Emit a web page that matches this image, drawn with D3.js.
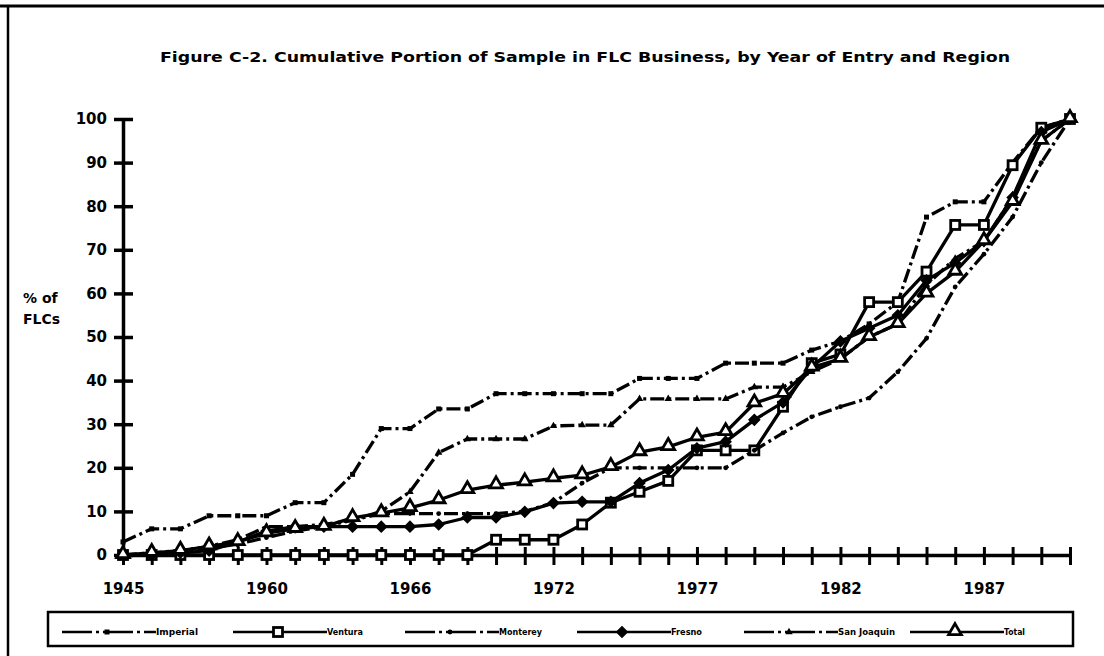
<!DOCTYPE html>
<head>
  <meta charset="utf-8" />
  <script src="https://d3js.org/d3.v7.min.js"></script>
  <style>
    body { margin: 0; background: #fff; }
    text { font-family: "DejaVu Sans", "Liberation Sans", Arial, sans-serif; font-weight: bold; fill: #000; }
  </style>
</head>
<body>
<script>
// x categories (only every 5th one carries a label)
var xLabels = ["1945","","","","","1960","","","","","1966","","","","","1972","","","","",
               "1977","","","","","1982","","","","","1987","","",""];
var yTicks = [0, 10, 20, 30, 40, 50, 60, 70, 80, 90, 100];

// cumulative % of FLCs, one value per category
var imperial   = [3, 6, 6, 9, 9, 9, 12, 12, 18.5, 29, 29, 33.5, 33.5, 37, 37, 37, 37, 37, 40.5, 40.5,
                  40.5, 44, 44, 44, 47, 49, 53, 58, 77.5, 81, 81, 90, 98, 100];
var ventura    = [0, 0, 0, 0, 0, 0, 0, 0, 0, 0, 0, 0, 0, 3.5, 3.5, 3.5, 7, 12, 14.5, 17,
                  24, 24, 24, 34, 44, 46, 58, 58, 65, 75.7, 75.7, 89.4, 98, 100];
var monterey   = [0, 0, 0.5, 1.5, 2.5, 4, 5.5, 6.5, 8, 9.5, 9.5, 9.5, 9.5, 9.5, 10, 12, 16.5, 20, 20, 20,
                  20, 20, 24, 28, 31.7, 34, 36, 42, 49.7, 61.5, 69, 77.5, 90, 100];
var fresno     = [0, 0, 0.5, 1, 3, 5.5, 6.5, 6.5, 6.5, 6.5, 6.5, 7, 8.6, 8.6, 9.9, 11.9, 12.2, 12.2, 16.5, 19.5,
                  24.5, 26, 31, 35, 43, 49, 52, 55, 63, 67, 72, 82, 97, 100];
var sanJoaquin = [0, 0.5, 1, 2, 3.5, 6.5, 6.5, 7, 8, 10, 14.5, 23.5, 26.6, 26.6, 26.6, 29.6, 29.8, 29.8, 35.8, 35.8,
                  35.8, 35.8, 38.5, 38.5, 42, 45, 50, 53, 62, 68, 72, 82, 95, 100];
var total      = [0, 0.5, 1, 2, 3, 5, 6, 6.5, 8.5, 9.6, 10.8, 12.6, 14.9, 16, 16.7, 17.6, 18.3, 20.2, 23.6, 24.8,
                  27, 28.2, 34.8, 37, 43, 45, 50, 53, 60, 65, 72, 81, 95, 100];

var seriesNames = ["Imperial", "Ventura", "Monterey", "Fresno", "San Joaquin", "Total"];
var seriesData = [imperial, ventura, monterey, fresno, sanJoaquin, total];

var width = 1104, height = 656;
var svg = d3.select("body").append("svg").attr("width", width).attr("height", height);

var x = d3.scaleLinear().domain([0, xLabels.length - 1]).range([123, 1070]);
var y = d3.scaleLinear().domain([0, 100]).range([555, 119]);

// frame
svg.append("line").attr("x1", 0).attr("x2", width).attr("y1", 6).attr("y2", 6)
  .attr("stroke", "#000").attr("stroke-width", 3);
svg.append("line").attr("x1", 8).attr("x2", 8).attr("y1", 5).attr("y2", height)
  .attr("stroke", "#000").attr("stroke-width", 2.5);

// title
svg.append("text").attr("x", 160).attr("y", 62)
  .attr("textLength", 850).attr("lengthAdjust", "spacingAndGlyphs")
  .style("font-size", "14px")
  .text("Figure C-2. Cumulative Portion of Sample in FLC Business, by Year of Entry and Region");

// y label
svg.append("text").attr("x", 23).attr("y", 303).style("font-size", "14px").text("% of");
svg.append("text").attr("x", 23).attr("y", 324).style("font-size", "14px").text("FLCs");

// axes
var yAxis = svg.append("g").attr("transform", "translate(123,0)")
  .call(d3.axisLeft(y).tickValues(yTicks).tickSizeOuter(0).tickPadding(16));
yAxis.select(".domain").attr("stroke-width", 3.5);
yAxis.selectAll(".tick line").attr("x1", -9).attr("x2", 10).attr("stroke-width", 3.5);
yAxis.selectAll(".tick text").attr("font-family", null).attr("font-size", null)
  .style("font-size", "15px").attr("x", -16);

var xAxis = svg.append("g").attr("transform", "translate(0,555)")
  .call(d3.axisBottom(x).tickValues(d3.range(xLabels.length)).tickSizeOuter(0)
    .tickFormat(function (i) { return xLabels[i]; }));
xAxis.select(".domain").attr("stroke-width", 3.5);
xAxis.selectAll(".tick line").attr("y1", -8).attr("y2", 10).attr("stroke-width", 3);
xAxis.selectAll(".tick text").attr("font-family", null).attr("font-size", null)
  .style("font-size", "15px").attr("y", 28);

// line styles
var styles = {
  "Imperial":    { dash: "14,4,3,4", marker: "smallsquare" },
  "Ventura":     { dash: null, marker: "square" },
  "Monterey":    { dash: "14,4,3,4", marker: "dot" },
  "Fresno":      { dash: null, marker: "diamond" },
  "San Joaquin": { dash: "14,4,3,4", marker: "smalltriangle" },
  "Total":       { dash: null, marker: "triangle" }
};

function drawMarker(g, type, cx, cy) {
  if (type === "square") {
    g.append("rect").attr("x", cx - 4.5).attr("y", cy - 4.5).attr("width", 9).attr("height", 9)
      .attr("fill", "#fff").attr("stroke", "#000").attr("stroke-width", 2.8);
  } else if (type === "smallsquare") {
    g.append("rect").attr("x", cx - 2.5).attr("y", cy - 2.5).attr("width", 5).attr("height", 5)
      .attr("fill", "#000");
  } else if (type === "dot") {
    g.append("circle").attr("cx", cx).attr("cy", cy).attr("r", 2.4).attr("fill", "#000");
  } else if (type === "diamond") {
    g.append("path").attr("transform", "translate(" + cx + "," + cy + ") rotate(45)")
      .attr("d", d3.symbol().type(d3.symbolSquare).size(55))
      .attr("fill", "#000").attr("stroke", "#000").attr("stroke-width", 1.5);
  } else if (type === "smalltriangle") {
    g.append("path").attr("transform", "translate(" + cx + "," + cy + ")")
      .attr("d", d3.symbol().type(d3.symbolTriangle).size(24)).attr("fill", "#000");
  } else if (type === "triangle") {
    g.append("path").attr("transform", "translate(" + cx + "," + (cy - 1) + ")")
      .attr("d", d3.symbol().type(d3.symbolTriangle).size(70))
      .attr("fill", "#fff").attr("stroke", "#000").attr("stroke-width", 2.8);
  }
}

var line = d3.line().x(function (d, i) { return x(i); }).y(function (d) { return y(d); });

seriesNames.forEach(function (name, k) {
  var st = styles[name];
  var g = svg.append("g");
  g.append("path").datum(seriesData[k]).attr("d", line)
    .attr("fill", "none").attr("stroke", "#000").attr("stroke-width", 3.3)
    .attr("stroke-linejoin", "round")
    .attr("stroke-dasharray", st.dash);
  seriesData[k].forEach(function (v, i) { drawMarker(g, st.marker, x(i), y(v)); });
});

// legend
svg.append("rect").attr("x", 48).attr("y", 612).attr("width", 1025).attr("height", 34)
  .attr("fill", "none").attr("stroke", "#000").attr("stroke-width", 2.5);
var legendPos = [107, 278, 450, 622, 789, 955];
var legendTextW = [42, 36, 43, 31, 57, 21];
seriesNames.forEach(function (name, k) {
  var m = legendPos[k], st = styles[name];
  var g = svg.append("g");
  g.append("line").attr("x1", m - 45).attr("x2", m + 49).attr("y1", 632).attr("y2", 632)
    .attr("stroke", "#000").attr("stroke-width", 2.5)
    .attr("stroke-dasharray", st.dash ? "30,4,3,4" : null);
  drawMarker(g, st.marker, m, 632);
  g.append("text").attr("x", m + 49).attr("y", 635)
    .attr("textLength", legendTextW[k]).attr("lengthAdjust", "spacingAndGlyphs")
    .style("font-size", "9px").text(name);
});
</script>
</body>
